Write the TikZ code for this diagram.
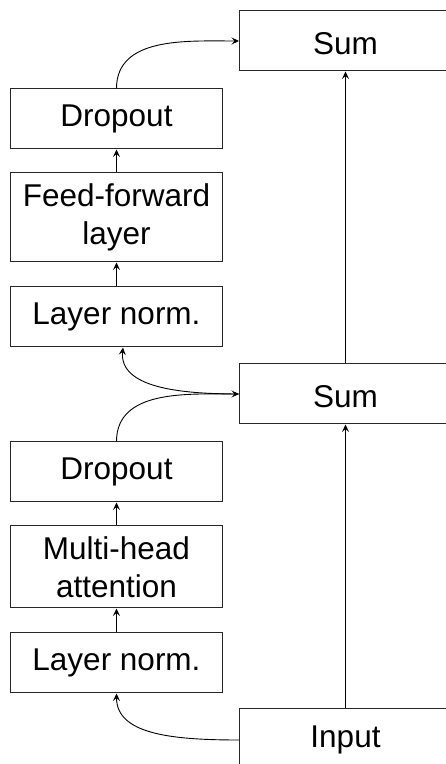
\documentclass[tikz,border=0pt]{standalone}
\usepackage{fontspec}
\setmainfont{Liberation Sans}
\usetikzlibrary{arrows.meta}
\begin{document}
\begin{tikzpicture}[x=1pt,y=1pt,
  box/.style={draw=black!85, line width=1pt, minimum width=212pt, inner sep=0pt, align=center,
    font=\fontsize{31.5}{38}\selectfont},
  onebox/.style={box, minimum height=60pt},
  sumbox/.style={onebox, text height=26.2pt, text depth=0pt},
  twobox/.style={box},
  arr/.style={line width=0.9pt, -{Stealth[length=7.5pt,width=7pt,inset=3pt]}}
]
\useasboundingbox (0,0) rectangle (445,764);
\node[sumbox] (sum2) at (345.5,723) {Sum};
\node[onebox] (d1) at (116.5,645) {Dropout};
\node[twobox, minimum height=89pt] (ff) at (116.5,546.5) {Feed-forward\\layer};
\node[onebox] (ln1) at (116.5,447) {Layer norm.};
\node[sumbox] (sum1) at (345.5,370) {Sum};
\node[onebox] (d2) at (116.5,292) {Dropout};
\node[twobox, minimum height=82pt] (mha) at (116.5,197) {Multi-head\\attention};
\node[onebox] (ln2) at (116.5,101) {Layer norm.};
\node[onebox, minimum height=62pt] (in) at (345.5,24) {Input};

\draw[arr] (in) -- (sum1);
\draw[arr] (sum1) -- (sum2);
\draw[arr] (ln2) -- (mha);
\draw[arr] (mha) -- (d2);
\draw[arr] (ln1) -- (ff);
\draw[arr] (ff) -- (d1);
\draw[arr] (d1.north) .. controls +(0,52) and +(-52,0) .. (sum2.west);
\draw[arr] (d2.north) .. controls +(0,52) and +(-52,0) .. (sum1.west);
\draw[arr] (sum1.west) .. controls +(-60,0) and +(-4,-40) .. ([xshift=6.5pt]ln1.south);
\draw[arr] (in.west) .. controls +(-70,0) and +(0,-40) .. (ln2.south);
\end{tikzpicture}
\end{document}
